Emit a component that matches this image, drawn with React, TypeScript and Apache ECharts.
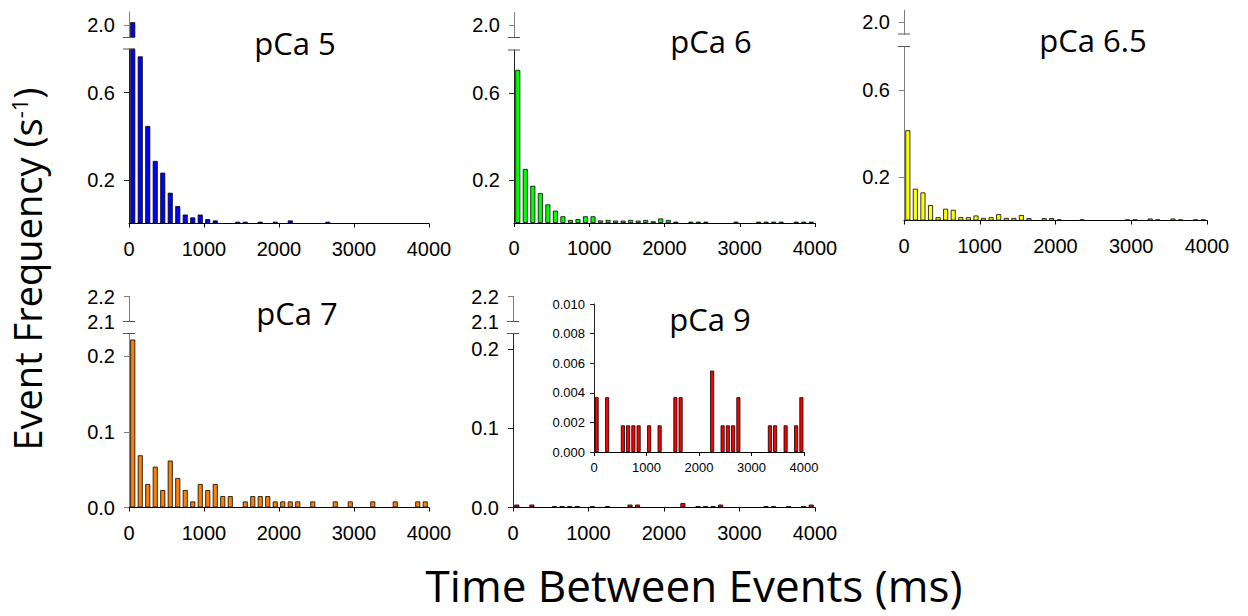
import React, { useEffect, useRef } from "react";
import * as echarts from "echarts";

// ---- data ----
const binCenters = [
  50, 150, 250, 350, 450, 550, 650, 750, 850, 950,
  1050, 1150, 1250, 1350, 1450, 1550, 1650, 1750, 1850, 1950,
  2050, 2150, 2250, 2350, 2450, 2550, 2650, 2750, 2850, 2950,
  3050, 3150, 3250, 3350, 3450, 3550, 3650, 3750, 3850, 3950,
];
const xTickValues = [0, 1000, 2000, 3000, 4000];

const pCa5Freq = [
  2.02, 0.766, 0.447, 0.287, 0.233, 0.141, 0.08, 0.041, 0.028, 0.041,
  0.02, 0.014, 0, 0, 0.008, 0.008, 0, 0.008, 0, 0.008,
  0, 0.014, 0, 0, 0, 0, 0.008, 0, 0, 0,
  0, 0, 0, 0, 0, 0, 0, 0, 0, 0,
];
const pCa6Freq = [
  0.708, 0.25, 0.172, 0.138, 0.086, 0.057, 0.031, 0.014, 0.018, 0.031,
  0.031, 0.012, 0.014, 0.011, 0.011, 0.014, 0.011, 0.014, 0.008, 0.021,
  0.014, 0.006, 0, 0.006, 0.006, 0.006, 0, 0, 0, 0.006,
  0, 0, 0.006, 0.006, 0.006, 0.006, 0, 0.006, 0.006, 0.006,
];
const pCa65Freq = [
  0.415, 0.146, 0.129, 0.071, 0.015, 0.054, 0.049, 0.015, 0.015, 0.023,
  0.012, 0.015, 0.029, 0.012, 0.012, 0.025, 0.011, 0, 0.011, 0.011,
  0.005, 0, 0, 0.005, 0, 0, 0, 0, 0, 0.005,
  0.005, 0, 0.009, 0.005, 0, 0.009, 0.005, 0, 0.005, 0.005,
];
const pCa7Freq = [
  0.222, 0.069, 0.031, 0.054, 0.023, 0.062, 0.039, 0.023, 0.008, 0.031,
  0.023, 0.031, 0.015, 0.015, 0, 0.008, 0.015, 0.015, 0.015, 0.008,
  0.008, 0.008, 0.008, 0, 0.008, 0, 0, 0.008, 0, 0.008,
  0, 0, 0.008, 0, 0, 0.008, 0, 0, 0.008, 0.008,
];
const pCa9Freq = [
  0.0037, 0, 0.0037, 0, 0, 0.0018, 0.0018, 0.0018, 0.0018, 0,
  0.0018, 0, 0.0018, 0, 0, 0.0037, 0.0037, 0, 0, 0,
  0, 0, 0.0055, 0, 0.0018, 0.0018, 0.0018, 0.0037, 0, 0,
  0, 0, 0, 0.0018, 0.0018, 0, 0.0018, 0, 0.0018, 0.0037,
];

const lowerLabelsHigh = [0.2, 0.6];
const lowerLabelsLow = [0.0, 0.1, 0.2];
const upperLabelsHigh = [2.0];
const upperLabelsLow = [2.1, 2.2];
const insetYTicks = [0, 0.002, 0.004, 0.006, 0.008, 0.01];

const titles = ["pCa 5", "pCa 6", "pCa 6.5", "pCa 7", "pCa 9"];
const xAxisTitle = "Time Between Events (ms)";
const yAxisTitleMain = "Event Frequency (s";
const yAxisTitleSup = "-1";

// ---- layout / style ----
const TICK_FONT = "Liberation Sans, Arial, sans-serif";
const TITLE_FONT = "Open Sans, Noto Sans, sans-serif";
const TICK_SIZE = 20;

const panels = [
  { title: titles[0], data: pCa5Freq, color: "#0000FF", left: 129, right: 429, upTop: 12, upBottom: 37.5, lowTop: 49, lowBottom: 223.5, upMin: 1.9, upMax: 2.1, upLabels: upperLabelsHigh, lowMax: 0.8, lowLabels: lowerLabelsHigh, tx: 295, ty: 43, lowAxisColor: "#222" },
  { title: titles[1], data: pCa6Freq, color: "#00FF00", left: 514, right: 815, upTop: 12.5, upBottom: 37.5, lowTop: 50, lowBottom: 223, upMin: 1.9, upMax: 2.1, upLabels: upperLabelsHigh, lowMax: 0.8, lowLabels: lowerLabelsHigh, tx: 711, ty: 41, lowAxisColor: "#222" },
  { title: titles[2], data: pCa65Freq, color: "#FFFF00", left: 904, right: 1207, upTop: 10, upBottom: 34, lowTop: 46.5, lowBottom: 220.5, upMin: 1.9, upMax: 2.1, upLabels: upperLabelsHigh, lowMax: 0.8, lowLabels: lowerLabelsHigh, tx: 1093, ty: 40, lowAxisColor: "#808080" },
  { title: titles[3], data: pCa7Freq, color: "#FF8000", left: 129, right: 429, upTop: 296.5, upBottom: 321.5, lowTop: 333.5, lowBottom: 507.5, upMin: 2.1, upMax: 2.2, upLabels: upperLabelsLow, lowMax: 0.23, lowLabels: lowerLabelsLow, tx: 297, ty: 313, lowAxisColor: "#808080" },
  { title: titles[4], data: pCa9Freq, color: "#FF0000", left: 513, right: 815, upTop: 296.5, upBottom: 321.5, lowTop: 333.5, lowBottom: 507.5, upMin: 2.1, upMax: 2.2, upLabels: upperLabelsLow, lowMax: 0.22, lowLabels: lowerLabelsLow, tx: 710, ty: 319, lowAxisColor: "#222" },
];

const inset = { left: 594, right: 804, top: 304, bottom: 452 };

function buildOption() {
  const grid: any[] = [];
  const xAxis: any[] = [];
  const yAxis: any[] = [];
  const series: any[] = [];
  const graphic: any[] = [];

  const baseX = (gi: number, show: boolean, fontSize: number, margin: number) => ({
    type: "value",
    gridIndex: gi,
    min: 0,
    max: 4000,
    interval: 1000,
    show,
    axisLine: { show: true, onZero: false, lineStyle: { color: "#000", width: 1 } },
    axisTick: { show: true, length: 4, inside: false, lineStyle: { color: "#000" }, customValues: xTickValues },
    axisLabel: {
      show: true,
      fontFamily: TICK_FONT,
      fontSize,
      color: "#000",
      margin,
      formatter: (v: number) => String(v),
      customValues: xTickValues,
      showMinLabel: true,
      showMaxLabel: true,
    },
    splitLine: { show: false },
  });

  panels.forEach((p, i) => {
    const upIdx = i * 2;
    const lowIdx = i * 2 + 1;
    grid.push({ left: p.left, width: p.right - p.left, top: p.upTop, height: p.upBottom - p.upTop });
    grid.push({ left: p.left, width: p.right - p.left, top: p.lowTop, height: p.lowBottom - p.lowTop });

    xAxis.push(baseX(upIdx, false, TICK_SIZE, 15));
    xAxis.push(baseX(lowIdx, true, TICK_SIZE, 15));

    yAxis.push({
      type: "value",
      gridIndex: upIdx,
      min: p.upMin,
      max: p.upMax,
      axisLine: { show: true, lineStyle: { color: "#808080", width: 1 } },
      axisTick: { show: true, length: 5, lineStyle: { color: "#808080" }, customValues: p.upLabels },
      axisLabel: { show: true, fontFamily: TICK_FONT, fontSize: TICK_SIZE, color: "#000", margin: 14, formatter: (v: number) => v.toFixed(1), customValues: p.upLabels, showMinLabel: true, showMaxLabel: true },
      splitLine: { show: false },
    });
    yAxis.push({
      type: "value",
      gridIndex: lowIdx,
      min: 0,
      max: p.lowMax,
      axisLine: { show: true, lineStyle: { color: p.lowAxisColor, width: 1 } },
      axisTick: { show: true, length: 5, lineStyle: { color: p.lowAxisColor }, customValues: p.lowLabels },
      axisLabel: { show: true, fontFamily: TICK_FONT, fontSize: TICK_SIZE, color: "#000", margin: 14, formatter: (v: number) => v.toFixed(1), customValues: p.lowLabels, showMinLabel: true, showMaxLabel: true },
      splitLine: { show: false },
    });

    const allData = binCenters
      .map((x, k) => [x, p.data[k]])
      .filter((d) => d[1] > 0);
    const upData = allData.filter((d) => d[1] > p.upMin);
    const itemStyle = { color: p.color, borderColor: "#000", borderWidth: 0.8 };

    series.push({
      type: "bar",
      name: p.title + " upper",
      xAxisIndex: upIdx,
      yAxisIndex: upIdx,
      data: upData,
      barWidth: 5,
      clip: true,
      itemStyle,
      silent: true,
    });
    series.push({
      type: "bar",
      name: p.title,
      xAxisIndex: lowIdx,
      yAxisIndex: lowIdx,
      data: allData,
      barWidth: 5,
      clip: true,
      itemStyle,
      silent: true,
    });

    // break marks
    graphic.push({
      type: "line",
      shape: { x1: p.left - 6, y1: p.upBottom, x2: p.left + 6, y2: p.upBottom },
      style: { stroke: "#555", lineWidth: 1 },
      z: 10,
    });
    graphic.push({
      type: "line",
      shape: { x1: p.left - 6, y1: p.lowTop, x2: p.left + 6, y2: p.lowTop },
      style: { stroke: "#555", lineWidth: 1 },
      z: 10,
    });
    // panel title
    graphic.push({
      type: "text",
      x: p.tx,
      y: p.ty,
      z: 20,
      style: { text: p.title, fontFamily: TITLE_FONT, fontSize: 31, fill: "#000", align: "center", verticalAlign: "middle" },
    });
  });

  // inset for pCa 9
  const insetIdx = grid.length;
  grid.push({ left: inset.left, width: inset.right - inset.left, top: inset.top, height: inset.bottom - inset.top });
  xAxis.push(baseX(insetIdx, true, 13, 9));
  yAxis.push({
    type: "value",
    gridIndex: insetIdx,
    min: 0,
    max: 0.01,
    interval: 0.002,
    axisLine: { show: true, lineStyle: { color: "#222", width: 1 } },
    axisTick: { show: true, length: 4, lineStyle: { color: "#222" }, customValues: insetYTicks },
    axisLabel: { show: true, fontFamily: TICK_FONT, fontSize: 13, color: "#000", margin: 9, formatter: (v: number) => v.toFixed(3), customValues: insetYTicks, showMinLabel: true, showMaxLabel: true },
    splitLine: { show: false },
  });
  series.push({
    type: "bar",
    name: "pCa 9 inset",
    xAxisIndex: insetIdx,
    yAxisIndex: insetIdx,
    data: binCenters.map((x, k) => [x, pCa9Freq[k]]).filter((d) => d[1] > 0),
    barWidth: 4,
    clip: true,
    itemStyle: { color: "#FF0000", borderColor: "#000", borderWidth: 0.8 },
    silent: true,
  });

  // axis titles
  graphic.push({
    type: "text",
    x: 694,
    y: 585,
    z: 20,
    style: { text: xAxisTitle, fontFamily: TITLE_FONT, fontSize: 44, fill: "#000", align: "center", verticalAlign: "middle" },
  });
  graphic.push({
    type: "text",
    x: 27,
    y: 269,
    rotation: Math.PI / 2,
    z: 20,
    style: {
      text: `{a|${yAxisTitleMain}}{b|${yAxisTitleSup}}{a|)}`,
      align: "center",
      verticalAlign: "middle",
      fill: "#000",
      rich: {
        a: { fontFamily: TITLE_FONT, fontSize: 38, fill: "#000", lineHeight: 38 },
        b: { fontFamily: TITLE_FONT, fontSize: 22, fill: "#000", verticalAlign: "top", lineHeight: 22 },
      },
    },
  });

  return {
    animation: false,
    backgroundColor: "#fff",
    grid,
    xAxis,
    yAxis,
    series,
    graphic,
  };
}

export default function App() {
  const ref = useRef<HTMLDivElement>(null);
  useEffect(() => {
    if (!ref.current) return;
    const chart = echarts.init(ref.current, null, { renderer: "svg" });
    chart.setOption(buildOption() as any);
    return () => chart.dispose();
  }, []);
  return (
    <div
      ref={ref}
      style={{ position: "fixed", left: 0, top: 0, width: 1248, height: 616, background: "#fff" }}
    />
  );
}
